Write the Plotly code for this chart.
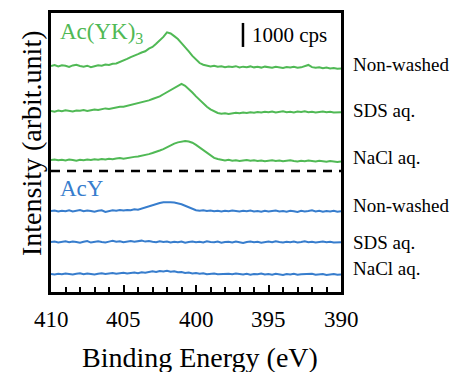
import plotly.graph_objects as go

# Binding energy axis (eV), 410 -> 390 in 0.25 eV steps
energy = [410 - 0.25 * i for i in range(81)]

# Relative intensity (cps) above each trace's baseline
ayk_nonwashed = [
    0, 40, -20, 30, 10, -40, 20, 50, 0, -30,
    10, -50, -10, 30, 10, 60, 40, 90, 105, 160,
    230, 290, 370, 420, 490, 560, 610, 720, 790, 920,
    1050, 1210, 1400, 1350, 1240, 1120, 950, 790, 610, 420,
    260, 120, 50, 20, -20, 10, -30, -10, -50, -20,
    -40, -10, -60, -30, -50, -20, -60, -40, -70, -30,
    -50, -80, -40, -60, -90, -50, -70, -40, -80, -60,
    -20, 40, -50, -80, -60, -100, -70, -110, -90, -120,
    -110]
ayk_sds = [
    0, -30, 20, -10, 30, 0, -20, 20, 10, 40,
    0, 30, 60, 40, 80, 110, 90, 120, 160, 180,
    175, 210, 245, 280, 315, 350, 395, 445, 500, 550,
    610, 700, 790, 875, 960, 1050, 1130, 1050, 920, 770,
    610, 455, 305, 175, 70, -20, -80, -110, -90, -120,
    -100, -70, -90, -60, -80, -50, -70, -40, -60, -30,
    -50, -20, -60, -40, -10, -50, -30, -60, -20, -40,
    -10, -50, -30, -60, -40, -20, -50, -30, -60, -40,
    -50]
ayk_nacl = [
    0, 20, -10, 10, -20, 20, 0, -30, 10, -10,
    20, 0, 30, 10, 40, 20, 50, 30, 60, 80,
    55, 90, 105, 130, 150, 175, 200, 245, 290, 330,
    395, 455, 535, 610, 680, 735, 770, 790, 770, 720,
    630, 525, 400, 280, 175, 90, 40, 0, -20, 10,
    -30, -10, -40, -20, 0, -30, -10, -40, -20, -50,
    -30, -10, -40, -20, -50, -30, -10, -40, -60, -30,
    -50, -20, -40, -60, -30, -50, -70, -40, -60, -80,
    -60]
acy_nonwashed = [
    0, 20, -20, 10, -10, 30, -20, 10, 40, -10,
    20, 0, -30, 10, 30, -40, 0, 30, 10, 40,
    20, 45, 30, 70, 55, 105, 160, 200, 245, 290,
    330, 365, 375, 365, 350, 330, 280, 220, 150, 80,
    35, 10, 30, 0, 20, -10, 10, -20, 10, -10,
    20, 0, -20, 10, -10, 20, -20, 0, -30, 10,
    -20, 0, 20, -20, 0, -30, 10, -10, -40, 10,
    -20, 0, 30, -20, 10, -30, 0, -20, 10, -30,
    -10]
acy_sds = [
    0, 20, -20, 10, 30, -10, 20, 0, -30, 10,
    40, -20, 10, 30, 0, -20, 20, 50, 10, 30,
    -10, 20, 40, 10, 30, 60, 20, 40, 10, -10,
    30, 0, 20, -20, 10, -10, 20, -30, 0, 20,
    -10, 10, -20, 30, 0, -10, 20, -30, 0, 10,
    -20, 20, -10, -40, 0, 20, -10, 10, -30, 0,
    20, -10, 30, 0, -20, 10, -10, 20, -20, 0,
    30, -10, 10, -20, 0, 20, -10, 10, -20, 0,
    -10]
acy_nacl = [
    0, -20, 10, -10, 20, 0, -20, 10, 30, -10,
    20, 0, -20, 10, 30, 0, 20, 40, 10, 30,
    50, 20, 40, 60, 30, 70, 50, 90, 110, 80,
    120, 100, 130, 90, 110, 70, 80, 40, 60, 20,
    40, 10, 30, -10, 10, 20, -10, 0, -20, 10,
    -10, 20, 0, -20, 10, -30, 0, -10, 20, -20,
    0, -30, 10, -10, -40, 0, -20, 10, -30, -10,
    0, -20, 10, -30, -10, 0, -40, -20, 0, -30,
    -20]

# Vertical stacking offsets (cps)
series_names = ["Non-washed", "SDS aq.", "NaCl aq.", "Non-washed", "SDS aq.", "NaCl aq."]
series_data = [ayk_nonwashed, ayk_sds, ayk_nacl, acy_nonwashed, acy_sds, acy_nacl]
offsets = [9420, 7540, 5500, 3375, 2080, 750]
label_y = [9460, 7580, 5625, 3625, 2080, 1000]
GREEN = "rgb(80,185,85)"
BLUE = "rgb(55,125,205)"
colors = [GREEN, GREEN, GREEN, BLUE, BLUE, BLUE]

divider_y = 5040
scale_bar_x = 396.76
scale_bar_y = [10210, 11210]  # 1000 cps
x_ticks = [410, 405, 400, 395, 390]
x_tick_labels = ["410", "405", "400", "395", "390"]
x_title = "Binding Energy (eV)"
y_title = "Intensity (arbit.unit)"

SERIF = "Liberation Serif, Times New Roman, serif"

fig = go.Figure()
for name, data, off, col in zip(series_names, series_data, offsets, colors):
    fig.add_trace(go.Scatter(
        x=energy, y=[v + off for v in data], mode="lines",
        line=dict(color=col, width=2), name=name, showlegend=False))

# dashed divider
fig.add_trace(go.Scatter(x=[410, 390], y=[divider_y, divider_y], mode="lines",
                         line=dict(color="black", width=2.5, dash="9px,7px"),
                         showlegend=False, hoverinfo="skip"))
# scale bar
fig.add_trace(go.Scatter(x=[scale_bar_x, scale_bar_x], y=scale_bar_y, mode="lines",
                         line=dict(color="black", width=2.5),
                         showlegend=False, hoverinfo="skip"))

for name, ly in zip(series_names, label_y):
    fig.add_annotation(x=1.035, xref="paper", y=ly, yref="y", text=name,
                       showarrow=False, xanchor="left", yanchor="middle",
                       font=dict(family=SERIF, size=19, color="black"))

# tick labels (placed on the x axis scale)
for tv, tl in zip(x_ticks, x_tick_labels):
    fig.add_annotation(x=tv, xref="x", y=-0.1, yref="paper", text=tl,
                       showarrow=False, xanchor="center", yanchor="middle",
                       font=dict(family=SERIF, size=23, color="black"))

# axis titles
fig.add_annotation(x=0.5155, xref="paper", y=-0.235, yref="paper", text=x_title,
                   showarrow=False, xanchor="center", yanchor="middle",
                   font=dict(family=SERIF, size=28, color="black"))
fig.add_annotation(x=-0.069, xref="paper", y=0.534, yref="paper", text=y_title,
                   showarrow=False, xanchor="center", yanchor="middle", textangle=-90,
                   font=dict(family=SERIF, size=28, color="black"))

fig.add_annotation(x=0.024, xref="paper", y=0.928, yref="paper",
                   text="Ac(YK)<sub>3</sub>", showarrow=False,
                   xanchor="left", yanchor="middle",
                   font=dict(family=SERIF, size=23, color=GREEN))
fig.add_annotation(x=0.024, xref="paper", y=0.37, yref="paper",
                   text="AcY", showarrow=False,
                   xanchor="left", yanchor="middle",
                   font=dict(family=SERIF, size=23, color=BLUE))
fig.add_annotation(x=0.686, xref="paper", y=0.921, yref="paper",
                   text="1000 cps", showarrow=False,
                   xanchor="left", yanchor="middle",
                   font=dict(family=SERIF, size=21, color="black"))

fig.update_layout(
    width=454, height=372, autosize=False,
    margin=dict(l=51, r=113, t=13, b=80, pad=0),
    paper_bgcolor="white", plot_bgcolor="white",
    xaxis=dict(range=[410, 390], tickvals=x_ticks, ticks="inside", ticklen=7,
               tickwidth=2, tickcolor="black", automargin=False,
               showticklabels=False,
               minor=dict(dtick=1, ticks="inside", ticklen=5, tickwidth=2, tickcolor="black"),
               showline=True, linecolor="black", linewidth=2.5, mirror=True,
               showgrid=False, zeroline=False),
    yaxis=dict(range=[0, 11625], showticklabels=False, ticks="", automargin=False,
               showline=True, linecolor="black", linewidth=2.5, mirror=True,
               showgrid=False, zeroline=False),
)

fig.write_html("out.html", config={"displayModeBar": False},
               post_script="document.body.style.margin='0px';")
